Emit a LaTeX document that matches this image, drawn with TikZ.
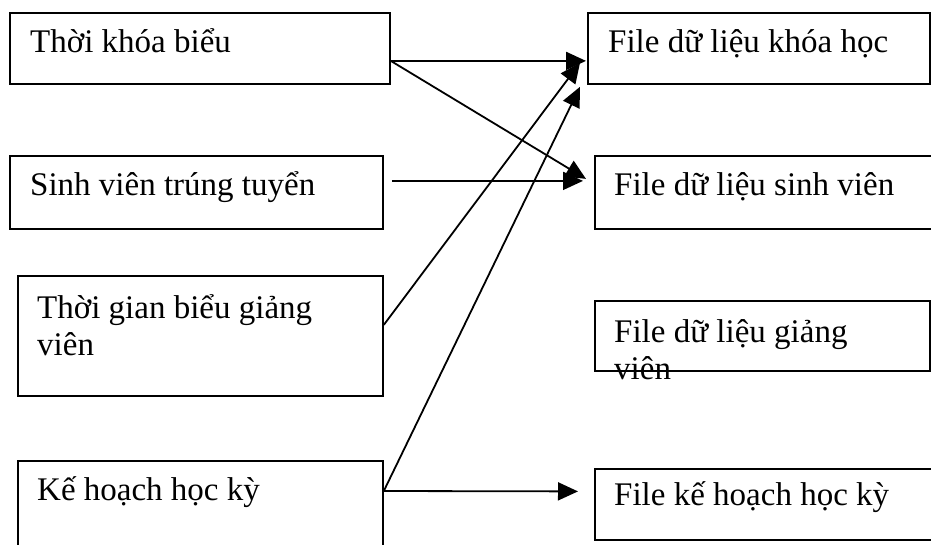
\documentclass[tikz,border=0pt]{standalone}
\usepackage{fontspec}
\setmainfont{Liberation Serif}
\usetikzlibrary{calc,arrows.meta}

\begin{document}
\begin{tikzpicture}[x=1pt, y=-1pt,
  box/.style={rectangle, draw=black, line width=1.8pt, inner sep=0pt, anchor=north west},
  txt/.style={inner sep=0pt, anchor=base west, align=left, font=\fontsize{33}{37}\selectfont},
  arr/.style={-{Triangle[length=20pt,width=18pt]}, line width=1.8pt}]

\useasboundingbox (0,0) rectangle (931,544);

\node[box, minimum width=380pt, minimum height=71pt] (tkb) at (9,12) {};
\node[box, minimum width=373pt, minimum height=73pt] (sv) at ($(tkb.north west) + (0, 143)$) {};
\node[box, minimum width=365pt, minimum height=120pt] (tgb) at ($(tkb.north west) + (8, 263)$) {};
\node[box, minimum width=365pt, minimum height=100pt] (kh) at ($(tkb.north west) + (8, 448)$) {};

\node[box, minimum width=342pt, minimum height=71pt] (fkh) at (587,12) {};
\node[box, minimum width=356pt, minimum height=73pt] (fsv) at ($(fkh.north west) + (7, 143)$) {};
\node[box, minimum width=335pt, minimum height=70pt] (fgv) at ($(fkh.north west) + (7, 288)$) {};
\node[box, minimum width=356pt, minimum height=71pt] (fkhk) at ($(fkh.north west) + (7, 456)$) {};

\node[txt] (tkb-t) at ($(tkb.north west) + (21, 40)$) {Thời khóa biểu};
\node[txt] (sv-t) at ($(sv.north west) + (21, 40)$) {Sinh viên trúng tuyển};
% two lines: base sits lower, so push down
\node[txt] (tgb-t) at ($(tgb.north west) + (20, 80)$) {Thời gian biểu giảng\\viên};
\node[txt] (kh-t) at ($(kh.north west) + (20, 40)$) {Kế hoạch học kỳ};

\node[txt] (fkh-t) at ($(fkh.north west) + (21, 40)$) {File dữ liệu khóa học};
\node[txt] (fsv-t) at ($(fsv.north west) + (20, 40)$) {File dữ liệu sinh viên};
\node[txt] (fgv-t) at ($(fgv.north west) + (20, 79)$) {File dữ liệu giảng\\viên};
\node[txt] (fkhk-t) at ($(fkhk.north west) + (20, 37)$) {File kế hoạch học kỳ};

\draw[arr] ([yshift=-12.5pt]tkb.east) -- ([xshift=-1pt,yshift=-12.5pt]fkh.west);
\draw[arr] ([yshift=-12.5pt]tkb.east) -- ([xshift=-8pt,yshift=13.5pt]fsv.west);

\draw[arr] ([xshift=8pt,yshift=11.5pt]sv.east) -- ([xshift=-11pt,yshift=11.5pt]fsv.west);

\draw[arr] ([yshift=11pt]tgb.east) -- ([xshift=-7pt,yshift=-14.5pt]fkh.west);

\draw[arr] ([yshift=-31pt]kh.north east) -- ([xshift=-7pt,yshift=-2pt]fkh.south west);
\draw[arr] ([yshift=-31pt]kh.north east) -- ([xshift=-16pt,yshift=13pt]fkhk.west);

\end{tikzpicture}
\end{document}
